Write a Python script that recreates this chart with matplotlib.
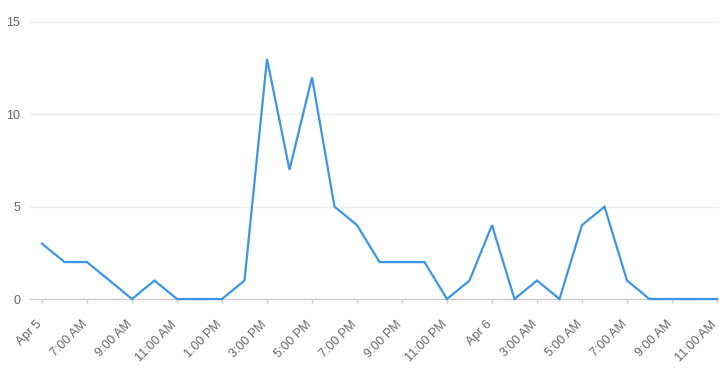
import matplotlib
matplotlib.use("Agg")
import matplotlib.pyplot as plt
import matplotlib.transforms as mtransforms

values = [3, 2, 2, 1, 0, 1, 0, 0, 0, 1, 13, 7, 12, 5, 4, 2, 2, 2, 0, 1, 4, 0, 1, 0, 4, 5, 1, 0, 0, 0, 0]
tick_labels = ["Apr 5", "7:00 AM", "9:00 AM", "11:00 AM", "1:00 PM", "3:00 PM", "5:00 PM",
               "7:00 PM", "9:00 PM", "11:00 PM", "Apr 6", "3:00 AM", "5:00 AM", "7:00 AM",
               "9:00 AM", "11:00 AM"]
y_ticks = [0, 5, 10, 15]

plt.rcParams['font.family'] = ['Liberation Sans', 'DejaVu Sans']

W, H = 719, 373
fig = plt.figure(figsize=(W / 100, H / 100), dpi=100)
ax_left, ax_right, ax_top, ax_bottom = 30, 719, 22, 299
ax = fig.add_axes([ax_left / W, 1 - ax_bottom / H, (ax_right - ax_left) / W, (ax_bottom - ax_top) / H])

x = list(range(len(values)))
ax.plot(x, values, color='#3d95e7', lw=1.6, clip_on=False, zorder=3, solid_joinstyle='miter')

ax.set_xlim(-12 / 22.5, (719 - 42) / 22.5)
ax.set_ylim(0, 15)

for s in ['top', 'right', 'left']:
    ax.spines[s].set_visible(False)
ax.spines['bottom'].set_color('#cccccc')
ax.spines['bottom'].set_linewidth(1)

ax.set_yticks(y_ticks)
ax.set_yticklabels([str(v) for v in y_ticks])
for v in y_ticks[1:]:
    ax.axhline(v, color='#efefef', lw=1, zorder=1)
ax.tick_params(axis='y', length=0, pad=7, labelsize=9, labelcolor='#666666')

ax.set_xticks(x[::2])
ax.set_xticklabels(tick_labels, rotation=45, ha='right', va='center', rotation_mode='anchor')
ax.tick_params(axis='x', length=3, width=1, color='#cccccc', pad=14, labelsize=9, labelcolor='#666666')
offset = mtransforms.ScaledTranslation(-2 / 100, 0, fig.dpi_scale_trans)
for lab in ax.get_xticklabels():
    lab.set_transform(lab.get_transform() + offset)

fig.savefig('out.png', dpi=100)
